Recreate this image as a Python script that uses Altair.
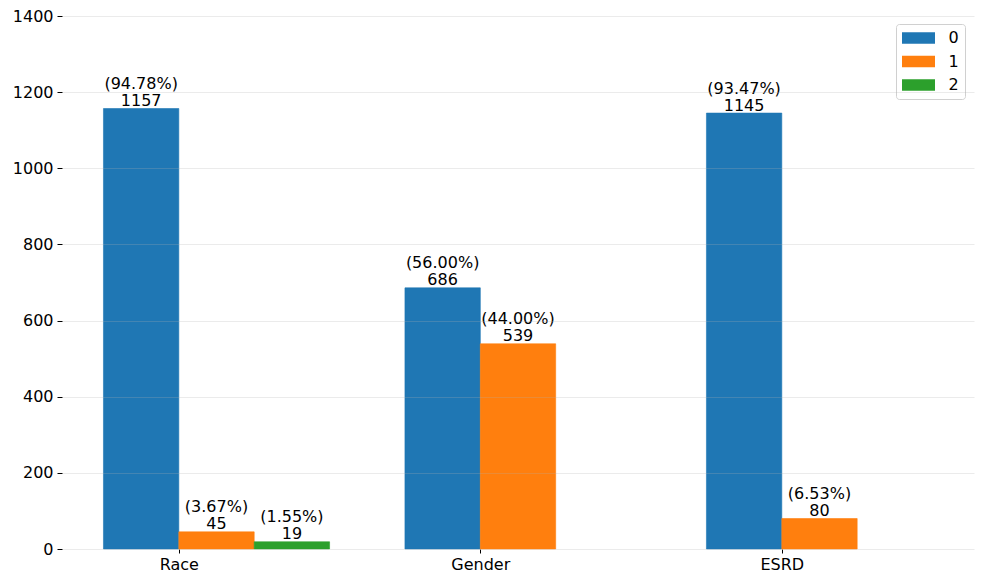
import altair as alt
import pandas as pd

categories = ["Race", "Gender", "ESRD"]
series = ["0", "1", "2"]
values_0 = [1157, 686, 1145]
values_1 = [45, 539, 80]
values_2 = [19, None, None]
pct_0 = ["94.78%", "56.00%", "93.47%"]
pct_1 = ["3.67%", "44.00%", "6.53%"]
pct_2 = ["1.55%", None, None]
colors = ["#1f77b4", "#ff7f0e", "#2ca02c"]

rows = []
for s, (vals, pcts) in enumerate([(values_0, pct_0), (values_1, pct_1), (values_2, pct_2)]):
    for i, cat in enumerate(categories):
        v = vals[i]
        if v is None:
            continue
        left = i - 0.25 + 0.25 * s
        rows.append({
            "category": cat,
            "series": series[s],
            "x0": left,
            "x1": left + 0.25,
            "xc": left + 0.125,
            "value": v,
            "label": "(" + pcts[i] + ")\n" + str(v),
        })
df = pd.DataFrame(rows)

label_expr = " : ".join(
    [f"datum.value == {i} ? '{c}'" for i, c in enumerate(categories)]
) + " : ''"

FONT = "DejaVu Sans"
FS = 16

xscale = alt.Scale(domain=[-0.3875, 2.6375], nice=False, zero=False)
yscale = alt.Scale(domain=[0, 1400], nice=False)

base = alt.Chart(df)

bars = base.mark_bar(strokeWidth=0.6).encode(
    x=alt.X("x0:Q", scale=xscale,
            axis=alt.Axis(values=[0, 1, 2], labelExpr=label_expr, title=None,
                          grid=False, domain=False, tickColor="black",
                          tickSize=4, labelFontSize=FS, labelColor="black",
                          labelFont=FONT, labelPadding=3)),
    x2="x1:Q",
    y=alt.Y("value:Q", scale=yscale,
            axis=alt.Axis(values=list(range(0, 1401, 200)), title=None,
                          format="d", domain=False, tickColor="black",
                          tickSize=5, labelFontSize=FS, labelColor="black",
                          labelFont=FONT, labelPadding=4, gridColor="#b0b0b0",
                          gridOpacity=0.25, zindex=1)),
    y2=alt.datum(0),
    stroke=alt.Stroke("series:N", scale=alt.Scale(domain=series, range=colors),
                      legend=None),
    color=alt.Color("series:N", scale=alt.Scale(domain=series, range=colors),
                    legend=alt.Legend(title=None, orient="none", legendX=834,
                                      legendY=8, strokeColor="#d0d0d0",
                                      fillColor="white", cornerRadius=3,
                                      padding=6,
                                      symbolType="M-2.75,-0.95H2.75V0.95H-2.75Z",
                                      symbolSize=144, symbolStrokeWidth=0,
                                      symbolOffset=8.5,
                                      labelFontSize=FS, labelFont=FONT,
                                      labelColor="black", labelOffset=22,
                                      rowPadding=7.5)),
)

texts = base.mark_text(baseline="alphabetic", align="center", fontSize=FS,
                       font=FONT, color="black", lineHeight=17, lineBreak="\n",
                       dy=-19.5).encode(
    x=alt.X("xc:Q", scale=xscale),
    y=alt.Y("value:Q", scale=yscale),
    text="label:N",
)

chart = alt.layer(bars, texts).properties(
    width=912, height=533,
    autosize=alt.AutoSizeParams(type="none"),
    padding={"left": 54, "top": 8, "right": 2, "bottom": 27},
).configure_view(stroke=None)

chart.save("out.html", embed_options={"renderer": "svg", "actions": False})
